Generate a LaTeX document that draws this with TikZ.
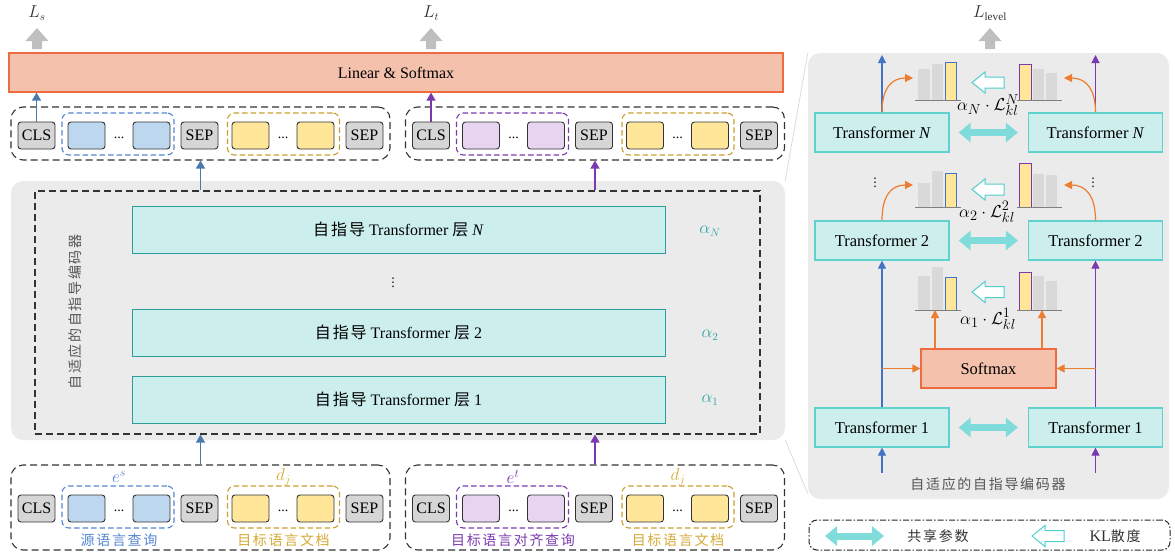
\documentclass[tikz,border=0pt]{standalone}
\usepackage{fontspec}
\setmainfont{Liberation Serif}
\newfontfamily\cjk[LetterSpace=12]{Noto Sans CJK SC}
\newfontfamily\symfont{DejaVu Sans}
\usetikzlibrary{arrows.meta}
\newcommand\fsz[1]{\fontsize{#1}{#1}\selectfont}

\definecolor{linfill}{HTML}{F4C1AD}
\definecolor{linline}{HTML}{EE6B40}
\definecolor{encgray}{HTML}{EBEBEB}
\definecolor{layfill}{HTML}{CCEFEE}
\definecolor{layline}{HTML}{2C9E9A}
\definecolor{tfline}{HTML}{5FD2CE}
\definecolor{tokgray}{HTML}{D6D6D6}
\definecolor{tokline}{HTML}{333333}
\definecolor{qbfill}{HTML}{BDD7EE}
\definecolor{qbline}{HTML}{5585D2}
\definecolor{steel}{HTML}{4A7AAB}
\definecolor{rblue}{HTML}{4472C4}
\definecolor{qpfill}{HTML}{E6D4F0}
\definecolor{qpline}{HTML}{7A3AAE}
\definecolor{dyfill}{HTML}{FFE699}
\definecolor{dyline}{HTML}{C9A02E}
\definecolor{dytext}{HTML}{D4AA35}
\definecolor{orng}{HTML}{ED7D31}
\definecolor{dblc}{HTML}{7FDCDA}
\definecolor{kltl}{HTML}{4FCFCB}
\definecolor{arrowgray}{HTML}{BFBFBF}
\definecolor{bargray}{HTML}{D9D9D9}
\definecolor{basegray}{HTML}{808080}
\definecolor{alphatl}{HTML}{2EA6A2}
\definecolor{txtgray}{HTML}{555555}
\definecolor{funnelgray}{HTML}{DCDCDC}

% one row of input tokens: [CLS] query [SEP] document [SEP]
% #1 prefix, #2 x shift, #3 token centre y, #4 query fill, #5 query line, #6 top y, #7 bottom y
\newcommand\tokrow[7]{%
  \node[outer, minimum height={#7-#6}] (#1row) at ({200.5+#2},{(#6+#7)/2}) {};
  \node[grp, draw=#5] (#1qg) at ({118+#2},{#3-1.5}) {};
  \node[grp, draw=dyline] (#1dg) at ({283.5+#2},{#3-1.5}) {};
  \node[tok] (#1cls) at ({36.5+#2},#3) {CLS};
  \node[tok, fill=#4] (#1qa) at ({86.5+#2},#3) {};
  \node[ell] (#1qe) at ({119+#2},{#3+2}) {...};
  \node[tok, fill=#4] (#1qb) at ({151.5+#2},#3) {};
  \node[tok] (#1sa) at ({199.5+#2},#3) {SEP};
  \node[tok, fill=dyfill] (#1da) at ({250.5+#2},#3) {};
  \node[ell] (#1de) at ({283+#2},{#3+2}) {...};
  \node[tok, fill=dyfill] (#1db) at ({315.5+#2},#3) {};
  \node[tok] (#1sb) at ({364.5+#2},#3) {SEP};
}

% small bar charts of the two token distributions
% #1 baseline y, #2 #3 #4 bar tops
\newcommand\histleft[4]{%
  \fill[bargray] (918,#1) rectangle (930,#2);
  \fill[bargray] (931.5,#1) rectangle (943,#3);
  \filldraw[fill=dyfill, draw=rblue, line width=1pt] (945,#1) rectangle (956,#4);
  \draw[basegray, line width=1pt] (915,#1) -- (961,#1);
}
\newcommand\histright[4]{%
  \filldraw[fill=dyfill, draw=qpline, line width=1pt] (1019.5,#1) rectangle (1031,#2);
  \fill[bargray] (1032.5,#1) rectangle (1044,#3);
  \fill[bargray] (1045.5,#1) rectangle (1057,#4);
  \draw[basegray, line width=1pt] (1017,#1) -- (1062,#1);
}

\begin{document}
\begin{tikzpicture}[x=1pt, y=-1pt,
  tok/.style={draw=tokline, line width=0.9pt, fill=tokgray, rounded corners=3pt,
    minimum width=37pt, minimum height=27pt, inner sep=0pt, font=\fsz{16}},
  grp/.style={dash pattern=on 5.5pt off 3pt, line width=1.1pt, rounded corners=7pt,
    minimum width=112pt, minimum height=42pt, inner sep=0pt},
  outer/.style={draw=black!80, dash pattern=on 7pt off 4pt, line width=1.1pt,
    rounded corners=12pt, minimum width=379pt, inner sep=0pt},
  ell/.style={inner sep=0pt, font=\fsz{14}},
  vdot/.style={inner sep=0pt, font=\symfont\fsz{12}},
  lin/.style={fill=linfill, draw=linline, line width=1.2pt, minimum width=774pt,
    minimum height=39pt, inner sep=0pt, font=\fsz{16}},
  encbg/.style={fill=encgray, rounded corners=12pt, minimum width=774pt,
    minimum height=259pt, inner sep=0pt},
  encbox/.style={draw=black!80, dash pattern=on 7pt off 4pt, line width=1.1pt,
    minimum width=725pt, minimum height=243pt, inner sep=0pt},
  layer/.style={fill=layfill, draw=layline, line width=1pt, minimum width=533pt,
    minimum height=47pt, inner sep=0pt, font=\fsz{16}},
  tf/.style={fill=layfill, draw=tfline, line width=1.2pt, minimum width=134pt,
    minimum height=39pt, inner sep=0pt, font=\fsz{16.5}},
  soft/.style={fill=linfill, draw=linline, line width=1.2pt, minimum width=135pt,
    minimum height=39pt, inner sep=0pt, font=\fsz{16.5}},
  rpbg/.style={fill=encgray, rounded corners=12pt, minimum width=361pt,
    minimum height=446pt, inner sep=0pt},
  legbox/.style={draw=black!85, line width=1pt, rounded corners=8pt,
    dash pattern=on 6pt off 2pt on 1.5pt off 2pt, minimum width=361pt,
    minimum height=30pt, inner sep=0pt},
  cjklab/.style={font=\cjk\fsz{14}, inner sep=0pt},
  loss/.style={font=\fsz{16}, text=black!80, inner sep=0pt},
  alab/.style={font=\fsz{16}, text=alphatl, inner sep=0pt},
  kllab/.style={font=\fsz{19}, inner sep=0pt},
  barr/.style={draw=steel, line width=1.3pt, -{Triangle[length=8pt,width=9pt]}},
  parr/.style={draw=qpline, line width=1.3pt, -{Triangle[length=8pt,width=9pt]}},
  rbarr/.style={draw=rblue, line width=1.2pt, -{Triangle[length=8pt,width=8pt]}},
  rparr/.style={draw=qpline, line width=1.2pt, -{Triangle[length=8pt,width=8pt]}},
  oarr/.style={draw=orng, line width=1.2pt, -{Triangle[length=8pt,width=8pt]}},
  share/.style={draw=dblc, line width=7pt,
    {Triangle[length=12pt,width=19pt]}-{Triangle[length=12pt,width=19pt]}},
  funnel/.style={draw=funnelgray, line width=0.8pt},
  pics/garrow/.style={code={
    \fill[arrowgray] (-5,0) -- (-5,-8) -- (-11.5,-8) -- (0,-21) -- (11.5,-8)
      -- (5,-8) -- (5,0) -- cycle;}},
  pics/klarrow/.style={code={
    \filldraw[fill=white, draw=kltl, line width=1pt] (0,0) -- (13,-10.5) -- (13,-5.5)
      -- (32,-5.5) -- (32,5.5) -- (13,5.5) -- (13,10.5) -- cycle;}},
]
\useasboundingbox (0,0) rectangle (1175,552);

% ---------- output layer ----------
\node[lin] (lin) at (396,72.5) {Linear \& Softmax};
\pic at (37,49) {garrow};
\pic at (431,49) {garrow};
\pic at (990,49) {garrow};
\node[loss] (ls) at (37,13) {$L_s$};
\node[loss] (lt) at (431,13) {$L_t$};
\node[loss] (llev) at (990,13) {$L_{\mathrm{level}}$};

% ---------- token rows above the encoder ----------
\tokrow{lt}{0}{135.5}{qbfill}{qbline}{107}{160}
\tokrow{rt}{394.5}{135.5}{qpfill}{qpline}{107}{160}
\draw[barr] (ltcls.north) -- (ltcls.north |- lin.south);
\draw[parr] (rtcls.north) -- (rtcls.north |- lin.south);

% ---------- encoder ----------
\node[encbg] (encbg) at (398,310.5) {};
\node[encbox] (enc) at (397.5,312.5) {};
\node[layer] (layN) at (398.5,229.5) {{\cjk 自指导} Transformer {\cjk 层} \textit{N}};
\node[layer] (lay2) at (398.5,332.5) {{\cjk 自指导} Transformer {\cjk 层} 2};
\node[layer] (lay1) at (398.5,399.5) {{\cjk 自指导} Transformer {\cjk 层} 1};
\node[vdot] (laydots) at (393,283) {⋮};
\node[alab] (aN) at (710,231) {$\alpha_N$};
\node[alab] (a2) at (710,335) {$\alpha_2$};
\node[alab] (a1) at (710,400) {$\alpha_1$};
\node[cjklab, text=txtgray, rotate=90] (enclab) at (75,312) {自适应的自指导编码器};
\draw[barr] (enc.north -| ltrow.north) -- (ltrow.south);
\draw[parr] (enc.north -| rtrow.north) -- (rtrow.south);

% ---------- input token rows ----------
\tokrow{lb}{0}{508.5}{qbfill}{qbline}{465}{550}
\tokrow{rb}{394.5}{508.5}{qpfill}{qpline}{465}{550}
\draw[barr] (lbrow.north) -- (lbrow.north |- enc.south);
\draw[parr] (rbrow.north) -- (rbrow.north |- enc.south);
\node[inner sep=0pt, font=\fsz{17}, text=qbline] (les) at (119,477) {$e^s$};
\node[inner sep=0pt, font=\fsz{17}, text=dytext] (ldl) at (283.5,477) {$d_j$};
\node[inner sep=0pt, font=\fsz{17}, text=qpline] (let) at (513,477) {$e^t$};
\node[inner sep=0pt, font=\fsz{17}, text=dytext] (ldr) at (678,477) {$d_j$};
\node[cjklab, text=qbline] (lsrc) at (119,540) {源语言查询};
\node[cjklab, text=dytext] (ldocl) at (283.5,540) {目标语言文档};
\node[cjklab, text=qpline] (ltgt) at (513,540) {目标语言对齐查询};
\node[cjklab, text=dytext] (ldocr) at (678,540) {目标语言文档};

% ---------- detail panel ----------
\node[rpbg] (rpbg) at (988.5,276) {};
\coordinate (fbot) at (808,494);
\draw[funnel] (encbg.north east) -- (rpbg.north west);
\draw[funnel] (encbg.south east) -- (fbot);

\node[tf] (tlN) at (882,132.5) {Transformer \textit{N}};
\node[tf] (trN) at (1095.5,132.5) {Transformer \textit{N}};
\node[tf] (tl2) at (882,240.5) {Transformer 2};
\node[tf] (tr2) at (1095.5,240.5) {Transformer 2};
\node[tf] (tl1) at (882,427.5) {Transformer 1};
\node[tf] (tr1) at (1095.5,427.5) {Transformer 1};
\node[soft] (soft) at (988.5,368.5) {Softmax};
\node[cjklab, text=txtgray] (rplab) at (988,484) {自适应的自指导编码器};

% shared parameters
\draw[share, shorten <=9pt, shorten >=10pt] (tlN) -- (trN);
\draw[share, shorten <=9pt, shorten >=10pt] (tl2) -- (tr2);
\draw[share, shorten <=9pt, shorten >=10pt] (tl1) -- (tr1);

% main data flow
\coordinate (bin) at (882,473);
\coordinate (pin) at (1095.5,473);
\coordinate (bout) at (882,55);
\coordinate (pout) at (1095.5,55);
\draw[rbarr] (bin) -- (tl1.south);
\draw[rbarr] (tl1.north) -- (tl2.south);
\draw[rbarr] (tlN.north) -- (bout);
\draw[rparr] (pin) -- (tr1.south);
\draw[rparr] (tr1.north) -- (tr2.south);
\draw[rparr] (trN.north) -- (pout);
\node[vdot] (dl) at (875,183) {⋮};
\node[vdot] (dr) at (1093,183) {⋮};

% distributions per level
\histleft{100}{69}{64}{62}
\histright{100}{64}{69}{73}
\histleft{207}{183}{171}{173}
\histright{207}{163}{174}{175}
\histleft{310}{276}{267}{277}
\histright{310}{272}{276}{281}
\pic at (972,82.5) {klarrow};
\pic at (972,189.5) {klarrow};
\pic at (972,292) {klarrow};
\node[kllab] (klN) at (988,105) {$\alpha_N\cdot\mathcal{L}_{kl}^{N}$};
\node[kllab] (kl2) at (987,212) {$\alpha_2\cdot\mathcal{L}_{kl}^{2}$};
\node[kllab] (kl1) at (988,319) {$\alpha_1\cdot\mathcal{L}_{kl}^{1}$};

% probabilities into the distributions
\coordinate (hl1) at (935,310);
\coordinate (hr1) at (1042,310);
\coordinate (hl2) at (913,185);
\coordinate (hr2) at (1064,185);
\coordinate (hlN) at (913,78);
\coordinate (hrN) at (1064,78);
\draw[oarr] (tl1.north |- soft.west) -- (soft.west);
\draw[oarr] (tr1.north |- soft.east) -- (soft.east);
\draw[oarr] (soft.north -| hl1) -- (hl1);
\draw[oarr] (soft.north -| hr1) -- (hr1);
\draw[oarr] (tl2.north) .. controls (882,196) and (891,185) .. (hl2);
\draw[oarr] (tr2.north) .. controls (1095.5,196) and (1086,185) .. (hr2);
\draw[oarr] (tlN.north) .. controls (882,89) and (891,78) .. (hlN);
\draw[oarr] (trN.north) .. controls (1095.5,89) and (1086,78) .. (hrN);

% ---------- legend ----------
\node[legbox] (leg) at (989.5,535) {};
\coordinate (lsa) at (825,536);
\coordinate (lsb) at (884,536);
\draw[share] (lsa) -- (lsb);
\node[cjklab, text=black!80] (lshare) at (938,536) {共享参数};
\pic at (1032,536) {klarrow};
\node[inner sep=0pt, font=\fsz{16}, text=black!80] (lkl) at (1115,536) {KL{\cjk\fsz{14}散度}};
\end{tikzpicture}
\end{document}
